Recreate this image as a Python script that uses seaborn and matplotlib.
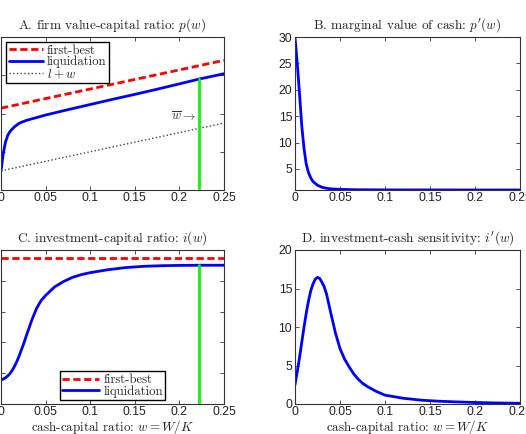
import numpy as np
import pandas as pd
import matplotlib
matplotlib.use("Agg")
import matplotlib.pyplot as plt
import seaborn as sns

# ---- data ----
w_bar = 0.222
w_ends = [0.0, 0.25]

# panel A: firm value-capital ratio p(w)
p_first_best = [1.228, 1.478]
l_plus_w = [0.90, 1.15]
w_p = [0, 0.0025, 0.005, 0.0075, 0.01, 0.0125, 0.015, 0.02, 0.025, 0.03, 0.04,
       0.05, 0.075, 0.1, 0.125, 0.15, 0.175, 0.2, 0.222, 0.25]
p_liq = [0.90, 0.99, 1.05, 1.085, 1.105, 1.118, 1.13, 1.148, 1.158, 1.166, 1.179,
         1.192, 1.22, 1.247, 1.274, 1.30, 1.327, 1.355, 1.38, 1.408]

# panel B: marginal value of cash p'(w)
w_dp = [0, 0.0025, 0.005, 0.0075, 0.01, 0.0125, 0.015, 0.0175, 0.02, 0.025, 0.03,
        0.035, 0.04, 0.045, 0.05, 0.06, 0.07, 0.08, 0.1, 0.12, 0.15, 0.2, 0.222, 0.25]
dp_liq = [30, 25, 19.3, 13.2, 8.9, 5.9, 4.3, 3.3, 2.6, 1.9, 1.52,
          1.32, 1.22, 1.16, 1.12, 1.08, 1.05, 1.04, 1.02, 1.015, 1.01, 1.003, 1.0, 1.0]

# panel C: investment-capital ratio i(w)
i_first_best = [0.146, 0.146]
w_i = [0, 0.0025, 0.005, 0.0075, 0.01, 0.0125, 0.015, 0.0175, 0.02, 0.025, 0.03,
       0.035, 0.04, 0.045, 0.05, 0.06, 0.07, 0.08, 0.09, 0.1, 0.12, 0.14, 0.16,
       0.18, 0.2, 0.222, 0.25]
i_liq = [-0.644, -0.638, -0.630, -0.618, -0.603, -0.582, -0.557, -0.527, -0.493,
         -0.415, -0.330, -0.248, -0.178, -0.128, -0.095, -0.040, -0.005, 0.022,
         0.040, 0.053, 0.072, 0.086, 0.094, 0.098, 0.100, 0.101, 0.101]

# panel D: investment-cash sensitivity i'(w)
w_di = [0, 0.0025, 0.005, 0.0075, 0.01, 0.0125, 0.015, 0.0175, 0.02, 0.0225, 0.025,
        0.0275, 0.03, 0.0325, 0.035, 0.0375, 0.04, 0.045, 0.05, 0.055, 0.06, 0.065,
        0.07, 0.075, 0.08, 0.09, 0.1, 0.12, 0.14, 0.16, 0.18, 0.2, 0.222, 0.25]
di_liq = [2.5, 4.2, 6.0, 8.0, 10.0, 11.8, 13.4, 14.7, 15.6, 16.2, 16.45,
          16.3, 15.8, 15.2, 14.3, 13.0, 11.7, 9.2, 7.2, 5.85, 4.85, 3.95,
          3.25, 2.7, 2.3, 1.65, 1.15, 0.75, 0.5, 0.36, 0.27, 0.2, 0.14, 0.09]

x_ticks = [0, 0.05, 0.1, 0.15, 0.2, 0.25]
x_tick_labels = ["0", "0.05", "0.1", "0.15", "0.2", "0.25"]

titles = ["A. firm value-capital ratio: $p(w)$",
          "B. marginal value of cash: $p'(w)$",
          "C. investment-capital ratio: $i(w)$",
          "D. investment-cash sensitivity: $i'(w)$"]
x_label = "cash-capital ratio: $w = W/K$"

# ---- style ----
sns.set_style("ticks")
plt.rcParams["font.family"] = ["Liberation Sans", "DejaVu Sans"]
plt.rcParams["mathtext.fontset"] = "cm"
plt.rcParams["axes.edgecolor"] = "#333333"
plt.rcParams["axes.linewidth"] = 0.8

serif = "cmr10"
blue = "#0000ff"
red = "#ff0000"
green = "#00ff00"
txt = "#222222"


def vline(ax, x, y0, y1):
    sns.lineplot(x=[x, x], y=[y0, y1], ax=ax, color=green, lw=2.0,
                 estimator=None, sort=False)


fig = plt.figure(figsize=(5.26, 4.34), dpi=100)
axA = fig.add_axes([1 / 526, 244 / 434, 223 / 526, 153 / 434])
axB = fig.add_axes([295 / 526, 244 / 434, 225 / 526, 153 / 434])
axC = fig.add_axes([1 / 526, 30 / 434, 223 / 526, 154 / 434])
axD = fig.add_axes([295 / 526, 30 / 434, 225 / 526, 154 / 434])
axes = [axA, axB, axC, axD]

leg_kw = dict(prop={"family": serif, "size": 9.2}, labelspacing=-0.08,
              borderpad=0.2, handletextpad=0.3, fancybox=False,
              framealpha=1, edgecolor="black")

# A
sns.lineplot(x=w_ends, y=p_first_best, ax=axA, color=red, lw=2.0,
             label="first-best").lines[-1].set_dashes((2.6, 1.3))
sns.lineplot(x=w_p, y=p_liq, ax=axA, color=blue, lw=2.0, label="liquidation")
sns.lineplot(x=w_ends, y=l_plus_w, ax=axA, color="#444444", lw=1.0,
             linestyle=":", label="$l + w$")
vline(axA, w_bar, 0.8, p_liq[w_p.index(w_bar)])
axA.text(0.219, 1.18, r"$\overline{w}\rightarrow$", ha="right", va="center",
         fontsize=9, color="#333333")
axA.set_ylim(0.8, 1.6)
axA.set_yticks([0.8, 1.0, 1.2, 1.4, 1.6])
axA.legend(loc="upper left", handlelength=2.7, borderaxespad=0.4, **leg_kw)

# B
sns.lineplot(x=w_dp, y=dp_liq, ax=axB, color=blue, lw=2.0)
axB.set_ylim(1, 30)
axB.set_yticks([5, 10, 15, 20, 25, 30])

# C
sns.lineplot(x=w_ends, y=i_first_best, ax=axC, color=red, lw=2.0,
             label="first-best").lines[-1].set_dashes((2.6, 1.3))
sns.lineplot(x=w_i, y=i_liq, ax=axC, color=blue, lw=2.0, label="liquidation")
vline(axC, w_bar, -0.8, i_liq[w_i.index(w_bar)])
axC.set_ylim(-0.8, 0.2)
axC.set_yticks([-0.8, -0.6, -0.4, -0.2, 0.0, 0.2])
axC.legend(loc="lower center", handlelength=2.9, borderaxespad=0.3, **leg_kw)

# D
sns.lineplot(x=w_di, y=di_liq, ax=axD, color=blue, lw=2.0)
axD.set_ylim(0, 20)
axD.set_yticks([0, 5, 10, 15, 20])

for ax, title in zip(axes, titles):
    ax.set_xlim(0, 0.25)
    ax.set_xticks(x_ticks)
    ax.set_xticklabels(x_tick_labels)
    ax.tick_params(direction="in", top=True, right=True, length=3, width=0.6,
                   color="#333333", labelsize=8.8, labelcolor=txt, pad=2)
    ax.tick_params(axis="x", pad=1.5)
    ax.set_title(title, fontfamily=serif, fontsize=9.6, pad=6, color=txt)
    ax.set_xlabel("")
    ax.set_ylabel("")
    for s in ax.spines.values():
        s.set_visible(True)

# the left panels' y labels fall outside the cropped canvas in the reference
for ax in [axA, axC]:
    ax.set_yticklabels([])

for ax in [axC, axD]:
    ax.set_xlabel(x_label, fontfamily=serif, fontsize=9.4, labelpad=0,
                  color=txt)

fig.savefig("out.png", dpi=100)
